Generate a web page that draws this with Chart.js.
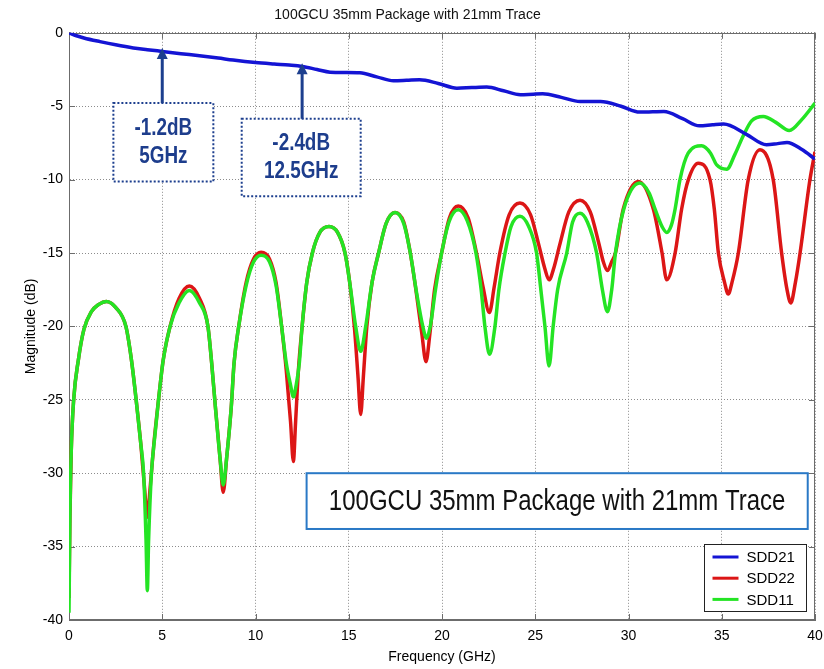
<!DOCTYPE html>
<html>
<head>
<meta charset="utf-8">
<title>100GCU 35mm Package with 21mm Trace</title>
<script src="https://cdn.jsdelivr.net/npm/chart.js@4.4.1/dist/chart.umd.min.js"></script>
<style>
  html, body { margin: 0; padding: 0; background: #fff; }
  #wrap { position: relative; width: 824px; height: 669px; }
</style>
</head>
<body>
<div id="wrap"><canvas id="sparam"></canvas></div>
<script>
// values (frequency in GHz, magnitude in dB)
const seriesNames = ['SDD21', 'SDD22', 'SDD11'];

const sdd21Freq = [0, 0.4, 0.8, 1.66, 2.5, 3.45, 4.2, 5.0, 6.0, 7.0,
  8.0, 8.8, 10.0, 11.0, 11.8, 12.5, 13.3, 14.0, 14.8, 15.6,
  16.5, 17.4, 18.1, 18.8, 19.8, 20.8, 21.6, 22.4, 23.3, 24.2,
  24.9, 25.4, 26.4, 27.4, 28.0, 28.5, 29.6, 30.6, 31.3, 31.9,
  32.9, 33.8, 34.5, 35.1, 36.3, 37.4, 38.0, 38.5, 39.3, 40];
const sdd21Db = [0, -0.2, -0.35, -0.6, -0.82, -1.03, -1.15, -1.27, -1.42, -1.56,
  -1.72, -1.86, -2.03, -2.13, -2.2, -2.29, -2.5, -2.68, -2.7, -2.72,
  -3.0, -3.27, -3.24, -3.2, -3.45, -3.77, -3.73, -3.7, -3.95, -4.22,
  -4.18, -4.16, -4.4, -4.68, -4.68, -4.68, -5.0, -5.4, -5.38, -5.36,
  -5.85, -6.34, -6.27, -6.22, -6.9, -7.63, -7.55, -7.47, -7.95, -8.6];

const sdd22Freq = [0, 0.05, 0.12, 0.25, 0.5, 0.8, 1.2, 1.6, 2.0, 2.5,
  3.05, 3.35, 3.6, 3.85, 4.05, 4.2, 4.35, 4.55, 4.8, 5.05,
  5.42, 5.9, 6.45, 7.0, 7.45, 7.65, 7.85, 8.1, 8.27, 8.45,
  8.7, 8.85, 9.1, 9.5, 9.9, 10.3, 10.75, 11.1, 11.4, 11.65,
  11.88, 12.03, 12.15, 12.3, 12.5, 12.75, 13.05, 13.45, 13.94, 14.4,
  14.8, 15.05, 15.3, 15.5, 15.64, 15.78, 15.97, 16.25, 16.6, 17.0,
  17.48, 17.95, 18.3, 18.6, 18.92, 19.14, 19.35, 19.6, 19.98, 20.4,
  20.87, 21.4, 21.85, 22.2, 22.54, 22.8, 23.1, 23.6, 24.18, 24.75,
  25.2, 25.5, 25.74, 26.0, 26.3, 26.8, 27.4, 27.95, 28.4, 28.65,
  28.87, 29.1, 29.3, 29.72, 30.53, 31.33, 31.8, 32.05, 32.5, 32.85,
  33.21, 33.74, 34.37, 34.6, 34.82, 35.15, 35.35, 35.55, 35.89, 36.42,
  37.05, 37.76, 38.21, 38.5, 38.7, 38.95, 39.2, 39.73, 40];
const sdd22Db = [-38.5, -33, -28.5, -25, -22.3, -20.2, -19.0, -18.5, -18.3, -18.7,
  -20, -22.3, -25, -28, -31, -33, -31, -28, -25, -22.3,
  -20, -18.1, -17.25, -18.1, -20, -22.5, -25.5, -29, -31.3, -29,
  -25.5, -22.5, -20, -17, -15.4, -14.95, -15.4, -17, -20, -23,
  -26.5, -29.2, -26.5, -23, -20, -17, -15, -13.6, -13.2, -13.6,
  -15, -17, -20, -23.5, -26, -23.5, -20, -17, -15, -13,
  -12.24, -12.9, -15, -17.5, -20.5, -22.4, -20.5, -17.5, -15, -12.6,
  -11.8, -12.6, -15, -17.3, -19.06, -17.3, -15, -12.4, -11.6, -12.4,
  -14.5, -16, -16.83, -16, -14.5, -12.2, -11.4, -12.2, -14.3, -15.6,
  -16.2, -15.6, -15, -12, -10.13, -12, -15, -16.83, -15, -12,
  -10, -8.88, -10, -12, -15, -17, -17.8, -17, -15, -10,
  -7.97, -10, -15, -17.5, -18.4, -17, -15, -10, -8.1];

const sdd11Freq = [0, 0.05, 0.12, 0.25, 0.5, 0.8, 1.2, 1.6, 2.0, 2.5,
  3.05, 3.35, 3.6, 3.85, 4.0, 4.13, 4.2, 4.27, 4.42, 4.6,
  4.8, 5.05, 5.42, 5.9, 6.45, 7.0, 7.45, 7.65, 7.85, 8.1,
  8.27, 8.45, 8.7, 8.85, 9.1, 9.5, 9.9, 10.3, 10.75, 11.1,
  11.4, 11.65, 11.88, 12.03, 12.18, 12.35, 12.5, 12.75, 13.05, 13.45,
  13.94, 14.4, 14.8, 15.05, 15.37, 15.64, 15.91, 16.25, 16.6, 17.0,
  17.48, 17.95, 18.3, 18.65, 18.97, 19.17, 19.37, 19.65, 19.98, 20.4,
  20.87, 21.35, 21.82, 22.1, 22.3, 22.55, 22.84, 23.05, 23.38, 23.7,
  24.18, 24.65, 25.07, 25.3, 25.52, 25.74, 25.96, 26.2, 26.69, 27.0,
  27.4, 27.8, 28.29, 28.6, 28.87, 29.1, 29.3, 29.75, 30.6, 31.1,
  31.42, 31.8, 32.05, 32.3, 32.5, 32.76, 33.2, 33.92, 34.4, 34.73,
  35.27, 35.7, 36.16, 36.6, 37.23, 37.9, 38.62, 39.3, 40];
const sdd11Db = [-39.5, -33, -28.5, -25, -22.3, -20.2, -19.0, -18.5, -18.3, -18.7,
  -20, -22.3, -25, -28, -30, -34.5, -38, -34.5, -30, -27.5,
  -25, -22.3, -20, -18.4, -17.55, -18.4, -20, -22.5, -25.5, -29,
  -30.8, -29, -25.5, -22.5, -20, -17.2, -15.6, -15.15, -15.6, -17.2,
  -20, -22.5, -24, -24.8, -24, -22.5, -20, -17, -15, -13.6,
  -13.2, -13.6, -15, -17, -20, -21.7, -20, -17, -15, -13,
  -12.24, -13, -15, -17.8, -20, -20.8, -20, -17.5, -15, -12.8,
  -12.06, -12.8, -15, -17.5, -20, -21.9, -20, -17.5, -15, -13.2,
  -12.5, -13.2, -15, -17.5, -20, -22.7, -20, -17.5, -15, -12.9,
  -12.3, -12.9, -15, -17.5, -19, -17.5, -15, -12, -10.24, -10.9,
  -12, -13.2, -13.6, -13.1, -12, -10, -8.2, -7.7, -8.2, -9,
  -9.29, -8.3, -7, -6, -5.7, -6.1, -6.66, -5.9, -4.79];

const xTickValues = [0, 5, 10, 15, 20, 25, 30, 35, 40];
const yTickValues = [0, -5, -10, -15, -20, -25, -30, -35, -40];

// callouts on the SDD21 curve
const callouts = [
  { lines: ['-1.2dB', '5GHz'], freq: 5.0, tipDb: -1.04, box: [2.38, 7.74, -4.79, -10.13] },
  { lines: ['-2.4dB', '12.5GHz'], freq: 12.5, tipDb: -2.07, box: [9.26, 15.64, -5.86, -11.14] }
];
const bannerText = '100GCU 35mm Package with 21mm Trace';
const bannerBox = [12.74, 39.61, -30.0, -33.8];

const colors = ['#1414d4', '#dc1616', '#24e424'];
const fontFamily = '"Liberation Sans", Arial, Helvetica, sans-serif';

function toPoints(xs, ys) {
  return xs.map((f, i) => ({ x: f, y: ys[i] }));
}

function narrowText(ctx, text, x, y, font, scaleX) {
  ctx.save();
  ctx.translate(x, y);
  ctx.scale(scaleX, 1);
  ctx.font = font;
  ctx.textAlign = 'center';
  ctx.textBaseline = 'middle';
  ctx.fillText(text, 0, 0);
  ctx.restore();
}

// solid box round the plot plus inward tick marks, like the original plot
const plotFrame = {
  id: 'plotFrame',
  beforeDatasetsDraw(chart) {
    const { ctx, chartArea: a, scales: { x, y } } = chart;
    ctx.save();
    ctx.strokeStyle = '#6c6c6c';
    ctx.lineWidth = 1;
    ctx.beginPath();
    xTickValues.forEach(v => {
      const px = Math.round(x.getPixelForValue(v)) + 0.5;
      ctx.moveTo(px, a.bottom); ctx.lineTo(px, a.bottom - 6);
      ctx.moveTo(px, a.top); ctx.lineTo(px, a.top + 6);
    });
    yTickValues.forEach(v => {
      const py = Math.round(y.getPixelForValue(v)) + 0.5;
      ctx.moveTo(a.left, py); ctx.lineTo(a.left + 6, py);
      ctx.moveTo(a.right, py); ctx.lineTo(a.right - 6, py);
    });
    ctx.stroke();
    ctx.strokeRect(Math.round(a.left) + 0.5, Math.round(a.top) + 0.5,
      Math.round(a.width) - 1, Math.round(a.height) - 1);
    ctx.restore();
  }
};

const notes = {
  id: 'notes',
  afterDraw(chart) {
    const { ctx, chartArea: a, scales: { x, y } } = chart;
    ctx.save();

    // callout boxes and arrows
    callouts.forEach(c => {
      const l = x.getPixelForValue(c.box[0]), r = x.getPixelForValue(c.box[1]);
      const t = y.getPixelForValue(c.box[2]), b = y.getPixelForValue(c.box[3]);
      ctx.fillStyle = '#fff';
      ctx.fillRect(l, t, r - l, b - t);
      ctx.setLineDash([2, 2]);
      ctx.lineWidth = 2;
      ctx.strokeStyle = '#1d3f8e';
      ctx.strokeRect(l, t, r - l, b - t);
      ctx.setLineDash([]);

      const ax = x.getPixelForValue(c.freq);
      const tip = y.getPixelForValue(c.tipDb);
      ctx.lineWidth = 3;
      ctx.beginPath();
      ctx.moveTo(ax, t);
      ctx.lineTo(ax, tip + 9);
      ctx.stroke();
      ctx.fillStyle = '#1d3f8e';
      ctx.beginPath();
      ctx.moveTo(ax, tip);
      ctx.lineTo(ax - 5.5, tip + 11);
      ctx.lineTo(ax + 5.5, tip + 11);
      ctx.closePath();
      ctx.fill();

      const cx = (l + r) / 2, cy = (t + b) / 2;
      ctx.fillStyle = '#1d3d8c';
      c.lines.forEach((line, i) => {
        narrowText(ctx, line, cx, cy + (i - (c.lines.length - 1) / 2) * 28,
          'bold 23px ' + fontFamily, 0.82);
      });
    });

    // banner label
    const bl = x.getPixelForValue(bannerBox[0]), br = x.getPixelForValue(bannerBox[1]);
    const bt = y.getPixelForValue(bannerBox[2]), bb = y.getPixelForValue(bannerBox[3]);
    ctx.fillStyle = '#fff';
    ctx.fillRect(bl, bt, br - bl, bb - bt);
    ctx.lineWidth = 2;
    ctx.strokeStyle = '#2a79c6';
    ctx.strokeRect(bl, bt, br - bl, bb - bt);
    ctx.fillStyle = '#111';
    narrowText(ctx, bannerText, (bl + br) / 2, (bt + bb) / 2 + 1, '30px ' + fontFamily, 0.8);

    // legend box, lower right inside the axes
    const w = 102, h = 67;
    const left = Math.round(a.right - 9 - w) + 0.5, top = Math.round(a.bottom - 9 - h) + 0.5;
    ctx.fillStyle = '#fff';
    ctx.fillRect(left, top, w, h);
    ctx.lineWidth = 1;
    ctx.strokeStyle = '#222';
    ctx.strokeRect(left, top, w, h);
    chart.data.datasets.forEach((ds, i) => {
      const ry = top + 12.5 + i * 21.2;
      ctx.strokeStyle = ds.borderColor;
      ctx.lineWidth = 3;
      ctx.beginPath();
      ctx.moveTo(left + 8, ry);
      ctx.lineTo(left + 34, ry);
      ctx.stroke();
      ctx.fillStyle = '#000';
      ctx.font = '15px ' + fontFamily;
      ctx.textAlign = 'left';
      ctx.textBaseline = 'middle';
      ctx.fillText(ds.label, left + 42, ry + 1);
    });
    ctx.restore();
  }
};

Chart.defaults.font.family = fontFamily;
Chart.defaults.color = '#000';

const ctx = document.getElementById('sparam').getContext('2d');
new Chart(ctx, {
  type: 'line',
  data: {
    datasets: [
      { label: seriesNames[0], data: toPoints(sdd21Freq, sdd21Db), borderColor: colors[0], order: 0 },
      { label: seriesNames[1], data: toPoints(sdd22Freq, sdd22Db), borderColor: colors[1], order: 2 },
      { label: seriesNames[2], data: toPoints(sdd11Freq, sdd11Db), borderColor: colors[2], order: 1 }
    ]
  },
  options: {
    responsive: true,
    maintainAspectRatio: false,
    animation: false,
    datasets: {
      line: {
        borderWidth: 3.5,
        pointRadius: 0,
        fill: false,
        cubicInterpolationMode: 'monotone'
      }
    },
    layout: { padding: { left: 0, right: 9, top: 0, bottom: 0 } },
    plugins: {
      legend: { display: false },
      tooltip: { enabled: false },
      title: {
        display: true,
        text: '100GCU 35mm Package with 21mm Trace',
        font: { size: 14, weight: 'normal' },
        color: '#111',
        padding: { top: 7, bottom: 9 }
      }
    },
    scales: {
      x: {
        type: 'linear',
        min: 0,
        max: 40,
        afterBuildTicks: s => { s.ticks = xTickValues.map(v => ({ value: v })); },
        afterFit: s => { s.height = 49; s.paddingRight = 0; s.paddingLeft = 0; },
        grid: { color: '#8c8c8c', lineWidth: 1, drawTicks: false },
        border: { color: '#6c6c6c', dash: [1, 2] },
        ticks: { padding: 8, font: { size: 14 }, color: '#000', maxRotation: 0 },
        title: { display: true, text: 'Frequency (GHz)', font: { size: 14 }, padding: { top: 0, bottom: 3 } }
      },
      y: {
        type: 'linear',
        min: -40,
        max: 0,
        afterBuildTicks: s => { s.ticks = yTickValues.map(v => ({ value: v })); },
        afterFit: s => { s.width = 69; },
        grid: { color: '#8c8c8c', lineWidth: 1, drawTicks: false },
        border: { color: '#6c6c6c', dash: [1, 2] },
        ticks: { padding: 6, font: { size: 14 }, color: '#000' },
        title: { display: true, text: 'Magnitude (dB)', font: { size: 14 }, padding: { top: 23, bottom: 0 } }
      }
    }
  },
  plugins: [plotFrame, notes]
});
</script>
</body>
</html>
